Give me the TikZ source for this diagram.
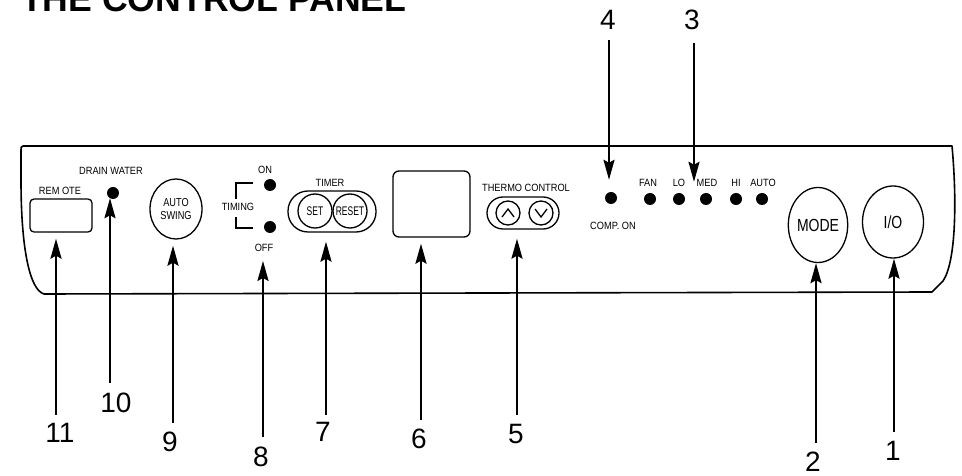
\documentclass[tikz,border=0pt]{standalone}
\usepackage{fontspec}
\setmainfont{Liberation Sans}
\newfontfamily\narrowfont[FakeStretch=0.8]{Liberation Sans}
\newfontfamily\semifont[FakeStretch=0.88]{Liberation Sans}
\newfontfamily\tightfont[FakeStretch=0.68]{Liberation Sans}
\usetikzlibrary{arrows.meta,shapes.geometric}
\begin{document}
\begin{tikzpicture}[x=1bp,y=-1bp,
  panel/.style={line width=1.6bp,line join=round},
  part/.style={draw,line width=1.3bp,inner sep=0pt},
  led/.style={circle,fill=black,minimum size=12bp,inner sep=0pt},
  lbl/.style={inner sep=0pt,font=\semifont\fontsize{10.5bp}{12bp}\selectfont},
  big/.style={inner sep=0pt,font=\narrowfont\fontsize{17.5bp}{19bp}\selectfont},
  num/.style={inner sep=0pt,font=\fontsize{28bp}{30bp}\selectfont},
  arr/.style={line width=2.4bp,-{Stealth[length=20bp,width=11bp,inset=3bp]}}]
\useasboundingbox (0,0) rectangle (962,476);
\clip (0,0) rectangle (962,476);
% title
\node[anchor=base west,inner sep=0pt,font=\bfseries\fontsize{35.6bp}{38bp}\selectfont] (title) at (21,12) {THE CONTROL PANEL};
% panel outline
\draw[panel] (23,146) -- (952,146) .. controls (957,200) and (956,262) .. (943,281) -- (932,292) -- (44,294)
  .. controls (30,290) and (21,250) .. (21,180) -- (21,150) .. controls (21,147) .. (23,146) -- cycle;
% remote
\node[part,rectangle,rounded corners=4bp,minimum width=62bp,minimum height=33bp] (remote) at (61,215.5) {};
\node[lbl] (remotel) at (60,191) {REM OTE};
% drain water
\node[lbl] (drainl) at (111,171) {DRAIN WATER};
\node[led] (drain) at (113,193) {};
% auto swing
\node[part,ellipse,minimum width=52bp,minimum height=60bp,align=center,font=\narrowfont\fontsize{11.5bp}{13.5bp}\selectfont] (swing) at (176,209) {AUTO\\SWING};
% timing
\node[lbl] (timing) at (238,207) {TIMING};
\draw[line width=1.3bp] (253,183) -- (236,183) -- (236,199);
\draw[line width=1.3bp] (236,217) -- (236,228) -- (253,228);
\node[lbl] (onl) at (265,170) {ON};
\node[led] (on) at (270,185) {};
\node[led] (off) at (270,227) {};
\node[lbl] (offl) at (264,248) {OFF};
% timer
\node[lbl] (timerl) at (330,183) {TIMER};
\node[part,rectangle,rounded corners=20bp,minimum width=88bp,minimum height=41bp] (timer) at (332,211.5) {};
\node[part,circle,minimum size=34bp,font=\tightfont\fontsize{12.5bp}{14bp}\selectfont] (set) at (315,211) {SET};
\node[part,circle,minimum size=34bp,font=\tightfont\fontsize{12.5bp}{14bp}\selectfont] (reset) at (350,211) {RESET};
% display
\node[part,rectangle,rounded corners=6bp,minimum width=77bp,minimum height=66bp] (display) at (431.5,204) {};
% thermo control
\node[lbl] (thermol) at (526,188) {THERMO CONTROL};
\node[part,rectangle,rounded corners=16bp,minimum width=72bp,minimum height=32bp] (thermo) at (523,213) {};
\node[part,circle,minimum size=24bp] (up) at (508,213) {};
\node[part,circle,minimum size=24bp] (down) at (541,213) {};
\draw[line width=1.3bp] ([shift={(-6,4)}]up.center) -- ([shift={(0,-4)}]up.center) -- ([shift={(6,4)}]up.center);
\draw[line width=1.3bp] ([shift={(-6,-4)}]down.center) -- ([shift={(0,4)}]down.center) -- ([shift={(6,-4)}]down.center);
% comp on
\node[led] (comp) at (611,198) {};
\node[lbl] (compl) at (613,226) {COMP. ON};
% fan speeds
\node[lbl] (fanl) at (648,183) {FAN};
\node[lbl] (lol) at (679,183) {LO};
\node[lbl] (medl) at (707,183) {MED};
\node[lbl] (hil) at (736,183) {HI};
\node[lbl] (autol) at (763,183) {AUTO};
\node[led] (fan) at (650,199) {};
\node[led] (lo) at (679,199) {};
\node[led] (med) at (706,199) {};
\node[led] (hi) at (736,199) {};
\node[led] (auto) at (762,199) {};
% mode, on/off
\node[part,ellipse,minimum width=59bp,minimum height=75bp,big] (mode) at (818,225) {MODE};
\node[part,ellipse,minimum width=61bp,minimum height=72bp,big] (io) at (893,222) {I/O};
% number labels
\node[num] (n11) at (60,433) {11};
\node[num] (n10) at (116,403) {10};
\node[num] (n9) at (170,442) {9};
\node[num] (n8) at (261,457) {8};
\node[num] (n7) at (323,432) {7};
\node[num] (n6) at (419,439) {6};
\node[num] (n5) at (516,434) {5};
\node[num] (n2) at (813,462) {2};
\node[num] (n1) at (893,451) {1};
\node[num] (n4) at (608,20) {4};
\node[num] (n3) at (692,20) {3};
% arrow tails
\coordinate (t11) at (56,415);
\coordinate (t10) at (110,383);
\coordinate (t9) at (173,423);
\coordinate (t8) at (263,437);
\coordinate (t7) at (326,415);
\coordinate (t6) at (421,420);
\coordinate (t5) at (517,415);
\coordinate (t2) at (816,443);
\coordinate (t1) at (894,432);
\coordinate (t4) at (609,40);
\coordinate (t3) at (694,43);
% arrows
\draw[arr,shorten >=6bp] (t11) -- (t11 |- remote.south);
\draw[arr,shorten >=-1bp] (t10) -- (t10 |- drain.south);
\draw[arr,shorten >=6bp] (t9) -- (t9 |- swing.south);
\draw[arr,shorten >=9bp] (t8) -- (t8 |- offl.south);
\draw[arr,shorten >=9bp] (t7) -- (t7 |- timer.south);
\draw[arr,shorten >=6bp] (t6) -- (t6 |- display.south);
\draw[arr,shorten >=9bp] (t5) -- (t5 |- thermo.south);
\draw[arr] (t2) -- (t2 |- mode.south);
\draw[arr] (t1) -- (t1 |- io.south);
\draw[arr,shorten >=12bp] (t4) -- (t4 |- comp.north);
\draw[arr,shorten >=11bp] (t3) -- (t3 |- med.north);
\end{tikzpicture}
\end{document}
